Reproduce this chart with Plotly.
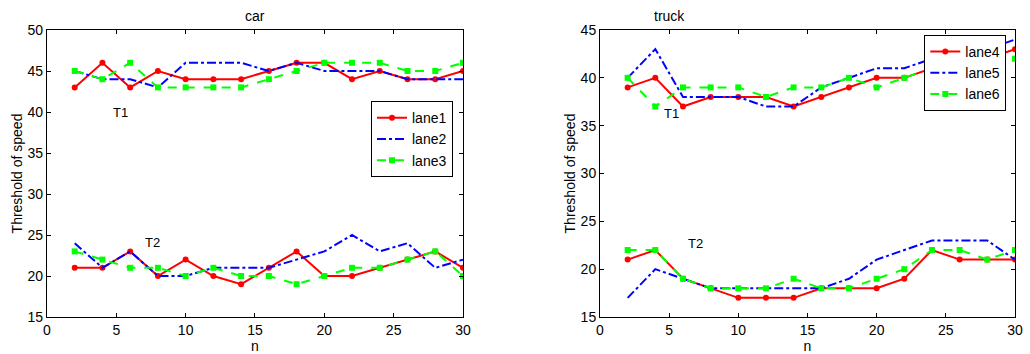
import plotly.graph_objects as go

n = [2, 4, 6, 8, 10, 12, 14, 16, 18, 20, 22, 24, 26, 28, 30]

# car, T1
car_t1_lane1 = [43, 46, 43, 45, 44, 44, 44, 45, 46, 46, 44, 45, 44, 44, 45]
car_t1_lane2 = [45, 44, 44, 43, 46, 46, 46, 45, 46, 45, 45, 45, 44, 44, 44]
car_t1_lane3 = [45, 44, 46, 43, 43, 43, 43, 44, 45, 46, 46, 46, 45, 45, 46]
# car, T2
car_t2_lane1 = [21, 21, 23, 20, 22, 20, 19, 21, 23, 20, 20, 21, 22, 23, 21]
car_t2_lane2 = [24, 21, 23, 20, 20, 21, 21, 21, 22, 23, 25, 23, 24, 21, 22]
car_t2_lane3 = [23, 22, 21, 21, 20, 21, 20, 20, 19, 20, 21, 21, 22, 23, 20]
# truck, T1
truck_t1_lane4 = [39, 40, 37, 38, 38, 38, 37, 38, 39, 40, 40, 41, 41, 42, 43]
truck_t1_lane5 = [40, 43, 38, 38, 38, 37, 37, 39, 40, 41, 41, 42, 42, 43, 44]
truck_t1_lane6 = [40, 37, 39, 39, 39, 38, 39, 39, 40, 39, 40, 41, 41, 41, 42]
# truck, T2
truck_t2_lane4 = [21, 22, 19, 18, 17, 17, 17, 18, 18, 18, 19, 22, 21, 21, 21]
truck_t2_lane5 = [17, 20, 19, 18, 18, 18, 18, 18, 19, 21, 22, 23, 23, 23, 21]
truck_t2_lane6 = [22, 22, 19, 18, 18, 18, 19, 18, 18, 19, 20, 22, 22, 21, 22]

titles = ["car", "truck"]
x_ticks = [0, 5, 10, 15, 20, 25, 30]
car_y_ticks = [15, 20, 25, 30, 35, 40, 45, 50]
truck_y_ticks = [15, 20, 25, 30, 35, 40, 45]

RED = "#ff0000"
BLUE = "#0000ff"
GREEN = "#00ff00"
FONT = "Liberation Sans, Arial, sans-serif"

styles = [
    dict(color=RED, dash="solid", marker="circle"),
    dict(color=BLUE, dash="dashdot", marker=None),
    dict(color=GREEN, dash="dash", marker="square"),
]

fig = go.Figure()


def add_series(y, style, name, xa, ya, legend, showlegend):
    mode = "lines+markers" if style["marker"] else "lines"
    kw = {}
    if style["marker"]:
        kw["marker"] = dict(symbol=style["marker"], size=6, color=style["color"])
    fig.add_trace(go.Scatter(
        x=n, y=y, mode=mode, name=name,
        line=dict(color=style["color"], dash=style["dash"], width=2),
        xaxis=xa, yaxis=ya, legend=legend, showlegend=showlegend, **kw))


car_sets = [(car_t1_lane1, car_t2_lane1, "lane1"),
            (car_t1_lane2, car_t2_lane2, "lane2"),
            (car_t1_lane3, car_t2_lane3, "lane3")]
truck_sets = [(truck_t1_lane4, truck_t2_lane4, "lane4"),
              (truck_t1_lane5, truck_t2_lane5, "lane5"),
              (truck_t1_lane6, truck_t2_lane6, "lane6")]

for (t1, t2, name), st in zip(car_sets, styles):
    add_series(t1, st, name, "x", "y", "legend", True)
    add_series(t2, st, name, "x", "y", "legend", False)
for (t1, t2, name), st in zip(truck_sets, styles):
    add_series(t1, st, name, "x2", "y2", "legend2", True)
    add_series(t2, st, name, "x2", "y2", "legend2", False)

axis_common = dict(
    showline=True, linecolor="#000000", linewidth=1, mirror="ticks",
    ticks="inside", ticklen=4, tickcolor="#000000", showgrid=False,
    zeroline=False, automargin=False,
    tickfont=dict(family=FONT, size=14, color="#000000"),
)

fig.update_layout(
    width=1030, height=354,
    margin=dict(l=0, r=0, t=30, b=37),
    paper_bgcolor="white", plot_bgcolor="white",
    font=dict(family=FONT, size=14, color="#000000"),
    showlegend=True,
    xaxis=dict(domain=[0.0456, 0.4495], range=[0, 30], tickvals=x_ticks,
               title=dict(text="n", standoff=0, font=dict(size=14)), anchor="y", **axis_common),
    yaxis=dict(domain=[0, 1], range=[15, 50], tickvals=car_y_ticks,
               title=dict(text="Threshold of speed", standoff=1, font=dict(size=14)), anchor="x",
               **axis_common),
    xaxis2=dict(domain=[0.5825, 0.9854], range=[0, 30], tickvals=x_ticks,
                title=dict(text="n", standoff=0, font=dict(size=14)), anchor="y2", **axis_common),
    yaxis2=dict(domain=[0, 1], range=[15, 45], tickvals=truck_y_ticks,
                title=dict(text="Threshold of speed", standoff=1, font=dict(size=14)), anchor="x2",
                **axis_common),
    legend=dict(x=0.4398, y=0.752, xanchor="right", yanchor="top",
                bgcolor="white", bordercolor="#000000", borderwidth=1,
                font=dict(family=FONT, size=14), tracegroupgap=0, itemwidth=30),
    legend2=dict(x=0.977, y=0.983, xanchor="right", yanchor="top",
                 bgcolor="white", bordercolor="#000000", borderwidth=1,
                 font=dict(family=FONT, size=14), tracegroupgap=0, itemwidth=30),
    annotations=[
        dict(text=titles[0], x=0.5, y=1.0, xref="x domain", yref="paper",
             yanchor="bottom", showarrow=False, yshift=4, font=dict(size=14)),
        dict(text=titles[1], x=0.125, y=1.0, xref="x2 domain", yref="paper",
             yanchor="bottom", showarrow=False, yshift=4, font=dict(size=14)),
        dict(text="T1", x=5.3, y=40, xref="x", yref="y", showarrow=False, font=dict(size=13)),
        dict(text="T2", x=7.6, y=24.1, xref="x", yref="y", showarrow=False, font=dict(size=13)),
        dict(text="T1", x=5.2, y=36.3, xref="x2", yref="y2", showarrow=False, font=dict(size=13)),
        dict(text="T2", x=6.9, y=22.7, xref="x2", yref="y2", showarrow=False, font=dict(size=13)),
    ],
)

fig.write_html("out.html", config={"displayModeBar": False},
               post_script="document.body.style.margin='0';document.body.style.overflow='hidden';")
